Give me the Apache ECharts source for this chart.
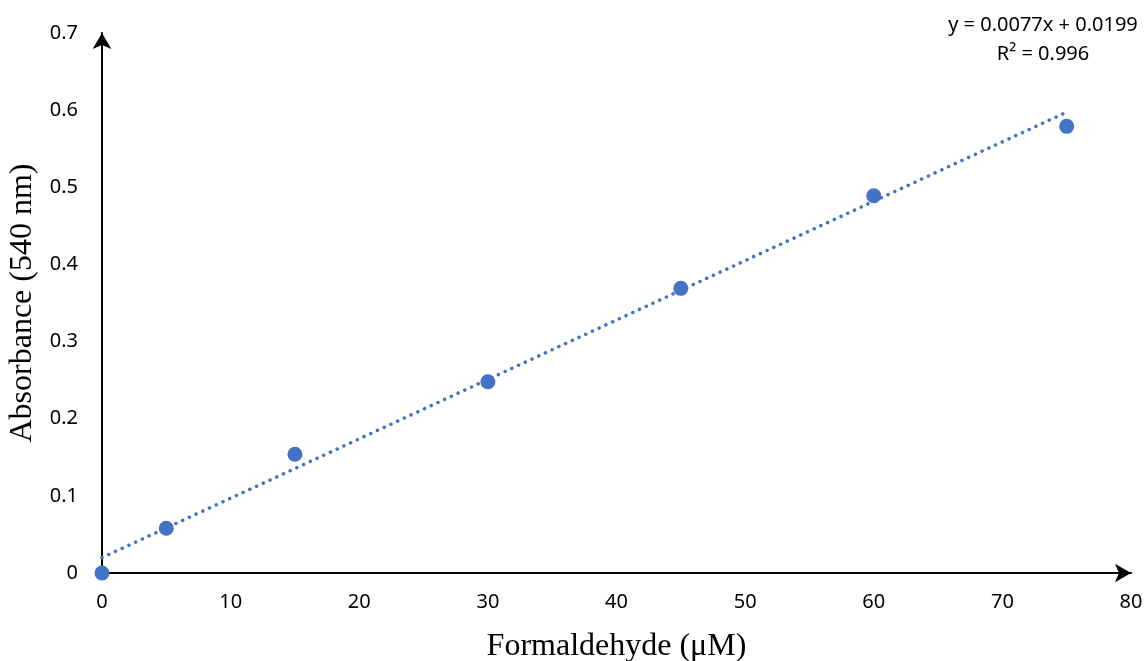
<!DOCTYPE html>
<html>
<head>
<meta charset="utf-8">
<script src="https://cdn.jsdelivr.net/npm/echarts@6/dist/echarts.min.js"></script>
<style>
  html, body { margin: 0; padding: 0; background: #fff; }
  #chart { width: 1146px; height: 661px; }
</style>
</head>
<body>
<div id="chart"></div>
<script>
// 甲醛浓度 (µM) 与吸光度
const concentration = [0, 5, 15, 30, 45, 60, 75];
const absorbance = [0, 0.058, 0.154, 0.248, 0.369, 0.489, 0.579];
// 趋势线两端 (x = 0 与 x = 75)
const trendX = [0, 75];
const trendY = [0.0199, 0.5974];
const xTicks = [0, 10, 20, 30, 40, 50, 60, 70, 80];
const yTicks = [0, 0.1, 0.2, 0.3, 0.4, 0.5, 0.6, 0.7];
const equationText = 'y = 0.0077x + 0.0199';
const r2Text = 'R² = 0.996';

const blue = '#4472C4';
const tickFont = '"Noto Sans", "Open Sans", sans-serif';
const nameFont = '"Liberation Serif", "DejaVu Serif", serif';

let myChart = echarts.init(document.getElementById('chart'));
myChart.setOption({
  animation: false,
  grid: {
    left: 102,
    right: 15,
    top: 33,
    bottom: 88,
    outerBoundsMode: 'none',
    containLabel: false
  },
  xAxis: {
    type: 'value',
    min: xTicks[0],
    max: xTicks[xTicks.length - 1],
    interval: 10,
    name: 'Formaldehyde (μM)',
    nameLocation: 'middle',
    nameGap: 58,
    nameTextStyle: { fontFamily: nameFont, fontSize: 32, color: '#000' },
    axisLine: {
      show: true,
      symbol: ['none', 'arrow'],
      symbolSize: [14, 16],
      lineStyle: { color: '#000', width: 2 }
    },
    axisTick: { show: false },
    splitLine: { show: false },
    axisLabel: { fontFamily: tickFont, fontSize: 20, color: '#000', margin: 19 }
  },
  yAxis: {
    type: 'value',
    min: yTicks[0],
    max: yTicks[yTicks.length - 1],
    interval: 0.1,
    name: 'Absorbance (540 nm)',
    nameLocation: 'middle',
    nameGap: 56,
    nameTextStyle: { fontFamily: nameFont, fontSize: 32, color: '#000' },
    axisLine: {
      show: true,
      symbol: ['none', 'arrow'],
      symbolSize: [14, 16],
      lineStyle: { color: '#000', width: 2 }
    },
    axisTick: { show: false },
    splitLine: { show: false },
    axisLabel: { fontFamily: tickFont, fontSize: 20, color: '#000', margin: 24 }
  },
  graphic: [
    {
      type: 'text',
      x: 1043,
      y: 25,
      style: {
        text: equationText,
        align: 'center',
        verticalAlign: 'middle',
        fontFamily: tickFont,
        fontSize: 20,
        fill: '#000'
      }
    },
    {
      type: 'text',
      x: 1043,
      y: 54,
      style: {
        text: r2Text,
        align: 'center',
        verticalAlign: 'middle',
        fontFamily: tickFont,
        fontSize: 20,
        fill: '#000'
      }
    }
  ],
  series: [
    {
      name: 'Linear (Absorbance)',
      type: 'line',
      data: trendX.map((x, i) => [x, trendY[i]]),
      showSymbol: false,
      symbol: 'none',
      lineStyle: { color: blue, width: 3.5, type: [0.1, 7.3], cap: 'round' },
      z: 2
    },
    {
      name: 'Absorbance',
      type: 'scatter',
      data: concentration.map((x, i) => [x, absorbance[i]]),
      symbol: 'circle',
      symbolSize: 15,
      itemStyle: { color: blue, opacity: 1 },
      z: 3
    }
  ]
});
</script>
</body>
</html>
